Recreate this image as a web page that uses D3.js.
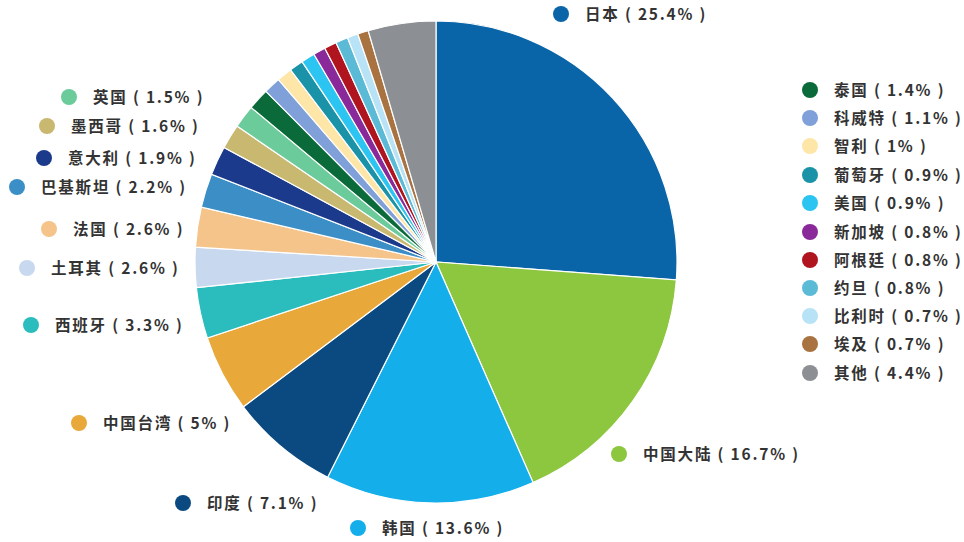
<!DOCTYPE html>
<html><head><meta charset="utf-8">
<script src="https://cdn.jsdelivr.net/npm/d3@7"></script>
<style>body{margin:0;background:#fff}text{font-family:"Noto Sans CJK SC",sans-serif}</style>
</head><body><div id="chart"></div>
<script>
// data, clockwise from 12 o'clock
const names = ["日本","中国大陆","韩国","印度","中国台湾","西班牙","土耳其","法国","巴基斯坦","意大利","墨西哥","英国",
  "泰国","科威特","智利","葡萄牙","美国","新加坡","阿根廷","约旦","比利时","埃及","其他"];
const shares = [25.4,16.7,13.6,7.1,5,3.3,2.6,2.6,2.2,1.9,1.6,1.5,1.4,1.1,1,0.9,0.9,0.8,0.8,0.8,0.7,0.7,4.4];
const colors = ["#0a64a8","#8dc63f","#14aeea","#0b4a80","#e8a83a","#2bbdbd","#c8d8ee","#f5c48a","#3b8fc6","#1b3a8c","#c9b870","#6ccb9a",
  "#0a6a3a","#7fa0d8","#fde6a8","#1a93a8","#2cc4f0","#8a2a9a","#b0141e","#5bbad5","#b8e2f5","#a87340","#8c8f94"];

// label placement (dot position) for each item
const labelPos = [[561,14],[619,454],[358,528],[183,503],[79,423],[31,325],[27,268],[49,229],[17,187],[44,158],[47,126],[69,97],
  [810,90],[810,118],[810,146],[810,175],[810,203],[810,232],[810,260],[810,288],[810,316],[810,344],[810,373]];

const width = 964, height = 542;
const cx = 436, cy = 262, r = 241;

const svg = d3.select("#chart").append("svg").attr("width", width).attr("height", height);

const pie = d3.pie().sort(null).value(d => d)(shares);
const arc = d3.arc().innerRadius(0).outerRadius(r);

svg.append("g").attr("transform", `translate(${cx},${cy})`)
  .selectAll("path").data(pie).enter().append("path")
  .attr("d", arc)
  .attr("fill", (d, i) => colors[i])
  .attr("stroke", "#fff").attr("stroke-width", 1.2);

const lg = svg.append("g").selectAll("g").data(names).enter().append("g")
  .attr("transform", (d, i) => `translate(${labelPos[i][0]},${labelPos[i][1]})`);
lg.append("circle").attr("r", 8).attr("fill", (d, i) => colors[i]);
lg.append("text").attr("x", 24).attr("dy", "0.36em")
  .attr("font-size", 15.5).attr("font-weight", "bold").attr("fill", "#333")
  .attr("letter-spacing", 1.8)
  .text((d, i) => `${d} ( ${shares[i]}% )`);
</script></body></html>
